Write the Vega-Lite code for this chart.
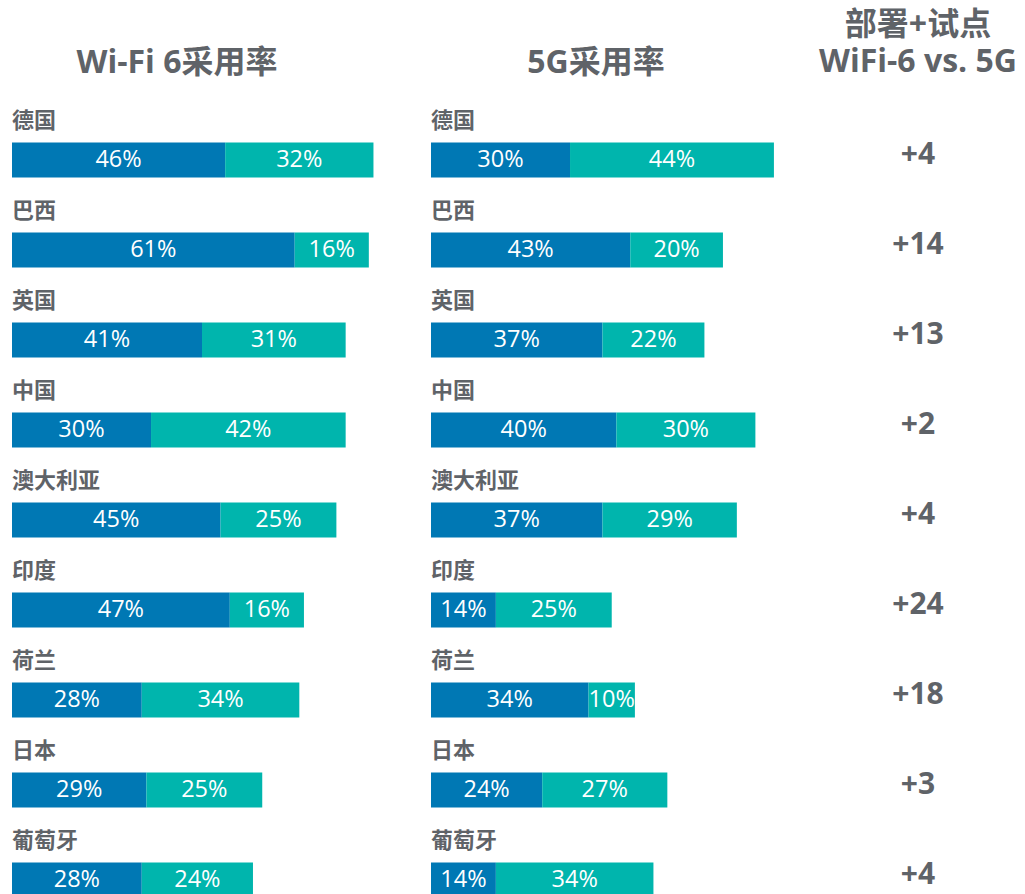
{
  "$schema": "https://vega.github.io/schema/vega-lite/v6.json",
  "padding": {"left": 12, "top": 9, "right": 0, "bottom": 0},
  "bounds": "flush",
  "background": "white",
  "config": {
    "font": "Open Sans, Noto Sans CJK SC",
    "view": {"stroke": null},
    "concat": {"spacing": 39},
    "title": {"fontSize": 32, "fontWeight": "bold", "color": "#5f6368", "anchor": "middle", "font": "Open Sans, Noto Sans CJK SC"}
  },
  "datasets": {
    "bars": [
      {"panel": "wifi", "country": "德国", "seg": "部署", "ord": 1, "pct": 0.46},
      {"panel": "wifi", "country": "德国", "seg": "试点", "ord": 2, "pct": 0.32},
      {"panel": "wifi", "country": "巴西", "seg": "部署", "ord": 1, "pct": 0.61},
      {"panel": "wifi", "country": "巴西", "seg": "试点", "ord": 2, "pct": 0.16},
      {"panel": "wifi", "country": "英国", "seg": "部署", "ord": 1, "pct": 0.41},
      {"panel": "wifi", "country": "英国", "seg": "试点", "ord": 2, "pct": 0.31},
      {"panel": "wifi", "country": "中国", "seg": "部署", "ord": 1, "pct": 0.30},
      {"panel": "wifi", "country": "中国", "seg": "试点", "ord": 2, "pct": 0.42},
      {"panel": "wifi", "country": "澳大利亚", "seg": "部署", "ord": 1, "pct": 0.45},
      {"panel": "wifi", "country": "澳大利亚", "seg": "试点", "ord": 2, "pct": 0.25},
      {"panel": "wifi", "country": "印度", "seg": "部署", "ord": 1, "pct": 0.47},
      {"panel": "wifi", "country": "印度", "seg": "试点", "ord": 2, "pct": 0.16},
      {"panel": "wifi", "country": "荷兰", "seg": "部署", "ord": 1, "pct": 0.28},
      {"panel": "wifi", "country": "荷兰", "seg": "试点", "ord": 2, "pct": 0.34},
      {"panel": "wifi", "country": "日本", "seg": "部署", "ord": 1, "pct": 0.29},
      {"panel": "wifi", "country": "日本", "seg": "试点", "ord": 2, "pct": 0.25},
      {"panel": "wifi", "country": "葡萄牙", "seg": "部署", "ord": 1, "pct": 0.28},
      {"panel": "wifi", "country": "葡萄牙", "seg": "试点", "ord": 2, "pct": 0.24},
      {"panel": "5g", "country": "德国", "seg": "部署", "ord": 1, "pct": 0.30},
      {"panel": "5g", "country": "德国", "seg": "试点", "ord": 2, "pct": 0.44},
      {"panel": "5g", "country": "巴西", "seg": "部署", "ord": 1, "pct": 0.43},
      {"panel": "5g", "country": "巴西", "seg": "试点", "ord": 2, "pct": 0.20},
      {"panel": "5g", "country": "英国", "seg": "部署", "ord": 1, "pct": 0.37},
      {"panel": "5g", "country": "英国", "seg": "试点", "ord": 2, "pct": 0.22},
      {"panel": "5g", "country": "中国", "seg": "部署", "ord": 1, "pct": 0.40},
      {"panel": "5g", "country": "中国", "seg": "试点", "ord": 2, "pct": 0.30},
      {"panel": "5g", "country": "澳大利亚", "seg": "部署", "ord": 1, "pct": 0.37},
      {"panel": "5g", "country": "澳大利亚", "seg": "试点", "ord": 2, "pct": 0.29},
      {"panel": "5g", "country": "印度", "seg": "部署", "ord": 1, "pct": 0.14},
      {"panel": "5g", "country": "印度", "seg": "试点", "ord": 2, "pct": 0.25},
      {"panel": "5g", "country": "荷兰", "seg": "部署", "ord": 1, "pct": 0.34},
      {"panel": "5g", "country": "荷兰", "seg": "试点", "ord": 2, "pct": 0.10},
      {"panel": "5g", "country": "日本", "seg": "部署", "ord": 1, "pct": 0.24},
      {"panel": "5g", "country": "日本", "seg": "试点", "ord": 2, "pct": 0.27},
      {"panel": "5g", "country": "葡萄牙", "seg": "部署", "ord": 1, "pct": 0.14},
      {"panel": "5g", "country": "葡萄牙", "seg": "试点", "ord": 2, "pct": 0.34}
    ],
    "diff": [
      {"country": "德国", "diff": "+4"},
      {"country": "巴西", "diff": "+14"},
      {"country": "英国", "diff": "+13"},
      {"country": "中国", "diff": "+2"},
      {"country": "澳大利亚", "diff": "+4"},
      {"country": "印度", "diff": "+24"},
      {"country": "荷兰", "diff": "+18"},
      {"country": "日本", "diff": "+3"},
      {"country": "葡萄牙", "diff": "+4"}
    ]
  },
  "hconcat": [
    {
      "title": {"text": "Wi-Fi 6采用率", "dx": -25, "offset": 30},
      "width": 380,
      "height": 810,
      "data": {"name": "bars"},
      "transform": [{"filter": {"field": "panel", "equal": "wifi"}}],
      "encoding": {
        "y": {"field": "country", "type": "nominal", "sort": ["德国", "巴西", "英国", "中国", "澳大利亚", "印度", "荷兰", "日本", "葡萄牙"], "scale": {"paddingInner": 0.611, "paddingOuter": 0.3055}, "axis": null}
      },
      "layer": [
        {
          "mark": {"type": "bar"},
          "encoding": {
            "x": {"field": "pct", "type": "quantitative", "stack": "zero", "scale": {"domain": [0, 0.82], "nice": false}, "axis": null},
            "color": {"field": "seg", "type": "nominal", "scale": {"domain": ["部署", "试点"], "range": ["#0078b4", "#00b5ad"]}, "legend": null},
            "order": {"field": "ord", "type": "quantitative"}
          }
        },
        {
          "transform": [
            {"stack": "pct", "groupby": ["country"], "sort": [{"field": "ord"}], "as": ["s0", "s1"]},
            {"fold": ["s0", "s1"], "as": ["edge", "pos"]}
          ],
          "mark": {"type": "text", "color": "white", "fontSize": 23.5, "baseline": "middle", "align": "center"},
          "encoding": {
            "x": {"field": "pos", "type": "quantitative", "aggregate": "mean"},
            "detail": {"field": "seg"},
            "text": {"field": "pct", "type": "quantitative", "aggregate": "max", "format": ".0%"}
          }
        },
        {
          "transform": [{"filter": {"field": "seg", "equal": "部署"}}],
          "mark": {"type": "text", "color": "#5f6368", "fontSize": 22, "fontWeight": "bold", "align": "left", "baseline": "middle", "dy": -39.5},
          "encoding": {
            "x": {"datum": 0},
            "text": {"field": "country"}
          }
        }
      ]
    },
    {
      "title": {"text": "5G采用率", "dx": -25, "offset": 30},
      "width": 380,
      "height": 810,
      "data": {"name": "bars"},
      "transform": [{"filter": {"field": "panel", "equal": "5g"}}],
      "encoding": {
        "y": {"field": "country", "type": "nominal", "sort": ["德国", "巴西", "英国", "中国", "澳大利亚", "印度", "荷兰", "日本", "葡萄牙"], "scale": {"paddingInner": 0.611, "paddingOuter": 0.3055}, "axis": null}
      },
      "layer": [
        {
          "mark": {"type": "bar"},
          "encoding": {
            "x": {"field": "pct", "type": "quantitative", "stack": "zero", "scale": {"domain": [0, 0.82], "nice": false}, "axis": null},
            "color": {"field": "seg", "type": "nominal", "scale": {"domain": ["部署", "试点"], "range": ["#0078b4", "#00b5ad"]}, "legend": null},
            "order": {"field": "ord", "type": "quantitative"}
          }
        },
        {
          "transform": [
            {"stack": "pct", "groupby": ["country"], "sort": [{"field": "ord"}], "as": ["s0", "s1"]},
            {"fold": ["s0", "s1"], "as": ["edge", "pos"]}
          ],
          "mark": {"type": "text", "color": "white", "fontSize": 23.5, "baseline": "middle", "align": "center"},
          "encoding": {
            "x": {"field": "pos", "type": "quantitative", "aggregate": "mean"},
            "detail": {"field": "seg"},
            "text": {"field": "pct", "type": "quantitative", "aggregate": "max", "format": ".0%"}
          }
        },
        {
          "transform": [{"filter": {"field": "seg", "equal": "部署"}}],
          "mark": {"type": "text", "color": "#5f6368", "fontSize": 22, "fontWeight": "bold", "align": "left", "baseline": "middle", "dy": -39.5},
          "encoding": {
            "x": {"datum": 0},
            "text": {"field": "country"}
          }
        }
      ]
    },
    {
      "title": {"text": ["部署+试点", "WiFi-6 vs. 5G"], "lineHeight": 37, "offset": 36},
      "width": 136,
      "height": 810,
      "data": {"name": "diff"},
      "mark": {"type": "text", "color": "#5f6368", "fontSize": 30, "fontWeight": "bold", "baseline": "middle", "align": "center", "dy": -5},
      "encoding": {
        "y": {"field": "country", "type": "nominal", "sort": ["德国", "巴西", "英国", "中国", "澳大利亚", "印度", "荷兰", "日本", "葡萄牙"], "scale": {"paddingInner": 0.611, "paddingOuter": 0.3055}, "axis": null},
        "text": {"field": "diff"}
      }
    }
  ]
}
